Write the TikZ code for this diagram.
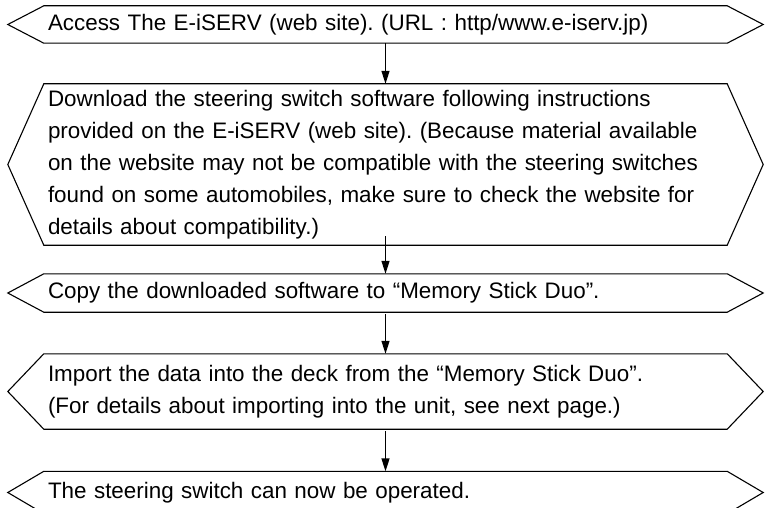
\documentclass[tikz,border=0pt]{standalone}
\usepackage{fontspec}
\setmainfont{Liberation Sans}
\usetikzlibrary{arrows.meta,calc}
\frenchspacing
\newcommand\stepshape[1]{\draw[boxline] (#1.north west) -- (#1.north east) -- ($(#1.east)+(36,0)$) -- (#1.south east) -- (#1.south west) -- ($(#1.west)+(-36,0)$) -- cycle;}
\begin{document}
\begin{tikzpicture}[x=1pt,y=-1pt,
  stepbox/.style={minimum width=683pt, text width=675pt, inner xsep=4pt, inner ysep=0pt,
    align=left, font=\fontsize{22.4}{32}\selectfont\frenchspacing},
  boxline/.style={line width=1.1pt, line join=miter},
  arr/.style={line width=1.4pt, -{Triangle[length=13pt,width=8pt]}}]
\useasboundingbox (0,0) rectangle (768,508);
\node[stepbox, minimum height=37pt] (s1) at (385.5,24.5) {Access The E-iSERV (web site). (URL : http/www.e-iserv.jp)};
\node[stepbox, minimum height=161pt] (s2) at (385.5,164.5) {Download the steering switch software following instructions\\provided on the E-iSERV (web site). (Because material available\\on the website may not be compatible with the steering switches\\found on some automobiles, make sure to check the website for\\details about compatibility.)};
\node[stepbox, minimum height=38pt] (s3) at (385.5,293) {Copy the downloaded software to “Memory Stick Duo”.};
\node[stepbox, minimum height=75pt] (s4) at (385.5,391.5) {Import the data into the deck from the “Memory Stick Duo”.\\(For details about importing into the unit, see next page.)};
\node[stepbox, minimum height=42pt] (s5) at (385.5,492.5) {The steering switch can now be operated.};
\stepshape{s1}
\stepshape{s2}
\stepshape{s3}
\stepshape{s4}
\stepshape{s5}
\draw[arr] (s1.south) -- (s2.north);
\draw[arr] ([yshift=9pt]s2.south) -- (s3.north);
\draw[arr] ([yshift=-2pt]s3.south) -- (s4.north);
\draw[arr] ([yshift=-2pt]s4.south) -- (s5.north);
\end{tikzpicture}
\end{document}
